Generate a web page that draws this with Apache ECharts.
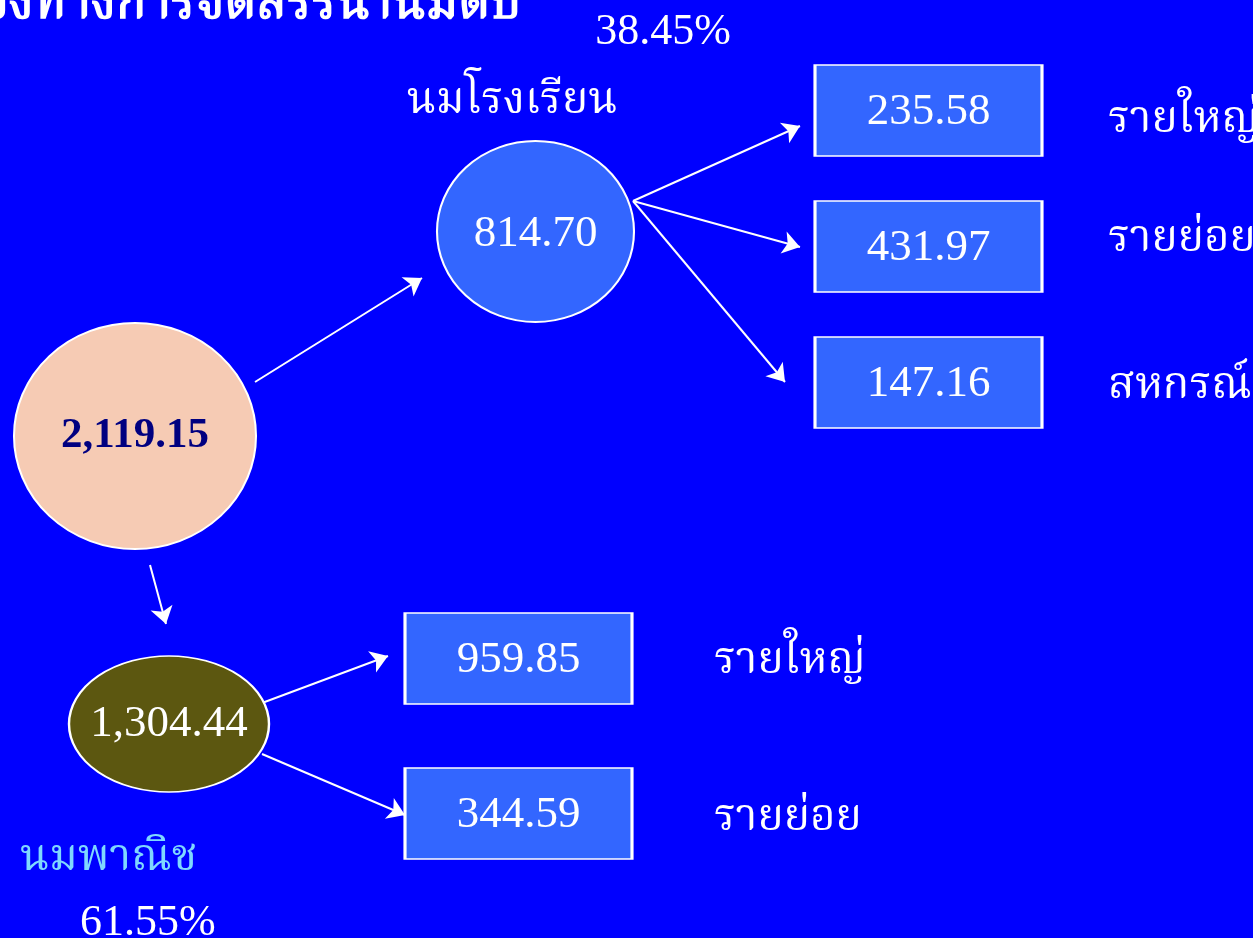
<!DOCTYPE html>
<html><head><meta charset="utf-8">
<script src="https://cdn.jsdelivr.net/npm/echarts@6/dist/echarts.min.js"></script>
<style>html,body{margin:0;padding:0;background:#0000FF;}#c{width:1253px;height:938px;}</style>
</head><body><div id="c"></div>
<script>
// ---- data ----
const title = 'ช่องทางการจัดสรรน้ำนมดิบ';
const totalValue = 2119.15;
const channels = ['นมโรงเรียน', 'นมพาณิช'];
const channelValues = [814.70, 1304.44];
const channelShares = ['38.45%', '61.55%'];
const schoolSubs = ['รายใหญ่', 'รายย่อย', 'สหกรณ์'];
const schoolSubValues = [235.58, 431.97, 147.16];
const commSubs = ['รายใหญ่', 'รายย่อย'];
const commSubValues = [959.85, 344.59];

// ---- layout (pixel positions) ----
const W = 1253, H = 938;
const pos = {
  total: [135, 436], school: [535.5, 231.5], comm: [169, 724],
  schoolBoxes: [[928.5, 110.5], [928.5, 246.5], [928.5, 382.5]],
  commBoxes: [[518.5, 658.5], [518.5, 813.5]]
};
const arrows = [
  [[255, 382], [422, 278]],
  [[150, 565], [166, 624]],
  [[633, 201], [800, 126]],
  [[633, 201], [800, 247]],
  [[633, 201], [785, 382]],
  [[262, 703], [388, 656]],
  [[262, 754], [405, 815]]
];

const serif = '"Liberation Serif", "Times New Roman", "Noto Serif Thai", "Noto Sans Thai", serif';
const fmt = v => v.toLocaleString('en-US', {minimumFractionDigits: 2, maximumFractionDigits: 2});

const nodes = [];
nodes.push({value: pos.total, name: fmt(totalValue), symbol: 'circle', symbolSize: [242, 226],
  itemStyle: {color: '#F6CBB4', borderColor: '#FFFFFF', borderWidth: 2, opacity: 1},
  label: {color: '#000080', fontWeight: 'bold', fontSize: 43}});
nodes.push({value: pos.school, name: fmt(channelValues[0]), symbol: 'circle', symbolSize: [197, 181],
  itemStyle: {color: '#3366FF', borderColor: '#FFFFFF', borderWidth: 2, opacity: 1},
  label: {offset: [0, 3]}});
nodes.push({value: pos.comm, name: fmt(channelValues[1]), symbol: 'circle', symbolSize: [200, 136],
  itemStyle: {color: '#5C5710', borderColor: '#FFFFFF', borderWidth: 2, opacity: 1}});
schoolSubValues.forEach((v, i) => nodes.push({value: pos.schoolBoxes[i], name: fmt(v), symbol: 'rect', symbolSize: [227, 91],
  itemStyle: {color: '#3366FF', borderColor: '#FFFFFF', borderWidth: 2, opacity: 1},
  label: {offset: [0, 2]}}));
commSubValues.forEach((v, i) => nodes.push({value: pos.commBoxes[i], name: fmt(v), symbol: 'rect', symbolSize: [227, 91],
  itemStyle: {color: '#3366FF', borderColor: '#FFFFFF', borderWidth: 2, opacity: 1},
  label: {offset: [0, 2]}}));

const texts = [];
const addText = (p, t, color, align) => texts.push({value: p, name: t,
  label: {color: color || '#FFFFFF', align: align || 'left'}});
addText([512, 101], channels[0], '#FFFFFF', 'center');
addText([663, 32], channelShares[0], '#FFFFFF', 'center');
addText([20, 858], channels[1], '#7FD8FF', 'left');
addText([80, 923], channelShares[1], '#FFFFFF', 'left');
addText([1108, 120], schoolSubs[0]);
addText([1108, 239], schoolSubs[1]);
addText([1108, 386], schoolSubs[2]);
addText([714, 661], commSubs[0]);
addText([714, 818], commSubs[1]);

const chart = echarts.init(document.getElementById('c'));
chart.setOption({
  backgroundColor: '#0000FF',
  animation: false,
  grid: {left: 0, right: 0, top: 0, bottom: 0},
  xAxis: {type: 'value', min: 0, max: W, show: false},
  yAxis: {type: 'value', min: 0, max: H, inverse: true, show: false},
  graphic: [{
    type: 'text', left: -50, top: -21, z: 10,
    style: {text: title, fill: '#FFFFFF', font: '50px ' + serif, stroke: '#FFFFFF', lineWidth: 1.5,
      textShadowColor: '#000000', textShadowOffsetX: 3, textShadowOffsetY: 3, textShadowBlur: 0}
  }],
  series: [
    {
      type: 'lines', coordinateSystem: 'cartesian2d', z: 1,
      symbol: ['none', 'arrow'], symbolSize: 17,
      lineStyle: {color: '#FFFFFF', width: 2, opacity: 1},
      data: arrows.map(a => ({coords: a}))
    },
    {
      type: 'scatter', z: 2,
      label: {show: true, position: 'inside', formatter: '{b}', color: '#FFFFFF', fontSize: 45, fontFamily: serif},
      data: nodes
    },
    {
      type: 'scatter', z: 3, symbolSize: 0, itemStyle: {opacity: 1},
      label: {show: true, position: 'inside', formatter: '{b}', fontSize: 44, fontFamily: serif},
      data: texts
    }
  ]
});
</script></body></html>
